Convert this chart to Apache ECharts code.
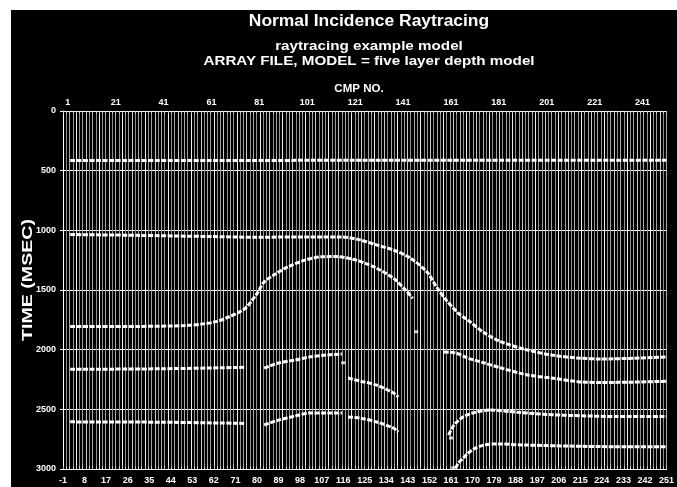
<!DOCTYPE html>
<html><head><meta charset="utf-8">
<script src="https://cdn.jsdelivr.net/npm/echarts@6/dist/echarts.min.js"></script>
<style>
html,body{margin:0;padding:0;background:#fff;width:677px;height:487px;overflow:hidden}
#c{position:absolute;left:11px;top:10px;width:666px;height:477px;background:#000}
</style></head><body><div id="c"></div>
<script>
// Tick labels
const cmpTopTicks = [1,21,41,61,81,101,121,141,161,181,201,221,241];
const cmpBottomTicks = [-1,8,17,26,35,44,53,62,71,80,89,98,107,116,125,134,143,152,161,170,179,188,197,206,215,224,233,242,251];
// Events: [CMP, time ms]
const ev400 = [[2,415],[60,415],[120,413],[180,413],[251,412]];
const ev1000 = [[2,1035],[30,1042],[60,1052],[80,1058],[100,1055],[115,1055],[123,1080],[130,1123],[137,1165],[144,1232],[151,1349],[155,1475],[159,1584],[164,1693],[168,1751],[175,1860],[182,1935],[193,2003],[203,2045],[214,2070],[224,2078],[237,2072],[251,2062]];
const evArc = [[2,1805],[30,1805],[50,1798],[57,1785],[63,1765],[68,1728],[75,1655],[80,1530],[83,1432],[87,1375],[93,1305],[100,1250],[107,1222],[113,1220],[120,1242],[125,1275],[130,1318],[137,1402],[142,1500],[145,1570]];
const ev2160a = [[2,2165],[40,2160],[75,2148]];
const ev2160b = [[83,2154],[89,2112],[96,2087],[102,2061],[109,2045],[115.5,2036]];
const ev2160c = [[118,2238],[123,2263],[130,2297],[137,2363],[139,2397]];
const ev2600a = [[2,2605],[40,2608],[75,2618]];
const ev2600b = [[83,2631],[89,2590],[96,2556],[102,2531],[109,2531],[115.5,2531]];
const ev2600c = [[118,2564],[123,2573],[130,2606],[137,2657],[139,2690]];
const evRight2000 = [[158,2020],[163,2028],[168,2070],[175,2112],[182,2154],[193,2212],[203,2238],[214,2268],[224,2275],[237,2272],[251,2265]];
const evRight2500 = [[160,2715],[162,2640],[163,2615],[166,2564],[170,2531],[177,2506],[189,2525],[203,2545],[217,2555],[230,2560],[251,2560]];
const evRight2800 = [[163,2995],[164,2952],[166,2911],[168,2869],[171,2827],[175,2799],[180,2790],[192,2799],[210,2808],[230,2813],[251,2813]];
const blips = [[146.5,1850],[116,2110],[161,2740],[162,2990]];

const events = [ev400, ev1000, evArc, ev2160a, ev2160b, ev2160c, ev2600a, ev2600b, ev2600c, evRight2000, evRight2500, evRight2800];

const chart = echarts.init(document.getElementById('c'));
const white = '#ffffff';
const narrow = "'Liberation Sans Narrow','Arial Narrow','Liberation Sans',Arial,sans-serif";
const sans = "'Liberation Sans',Arial,Helvetica,sans-serif";

const series = events.map(d => ({
  type: 'line', xAxisIndex: 0, yAxisIndex: 0, data: d,
  showSymbol: false, smooth: 0.3, silent: true, z: 5,
  lineStyle: { color: white, width: 3, type: [5, 1.5] }
}));
series.push({
  type: 'scatter', xAxisIndex: 0, yAxisIndex: 0, data: blips,
  symbol: 'rect', symbolSize: [4, 3], itemStyle: { color: white }, silent: true, z: 5
});

chart.setOption({
  backgroundColor: 'transparent',
  animation: false,
  grid: { left: 52, right: 4, top: 101, bottom: 18, containLabel: false },
  graphic: [
    { type: 'text', x: 358, y: 12, scaleX: 1.09, style: { text: 'Normal Incidence Raytracing', font: 'bold 16px ' + sans, fill: white, align: 'center', verticalAlign: 'middle' } },
    { type: 'text', x: 358, y: 36, scaleX: 1.17, style: { text: 'raytracing example model', font: 'bold 13px ' + sans, fill: white, align: 'center', verticalAlign: 'middle' } },
    { type: 'text', x: 358, y: 51, scaleX: 1.17, style: { text: 'ARRAY FILE, MODEL = five layer depth model', font: 'bold 13px ' + sans, fill: white, align: 'center', verticalAlign: 'middle' } },
    { type: 'text', x: 348, y: 79, scaleX: 1.05, style: { text: 'CMP NO.', font: 'bold 11px ' + sans, fill: white, align: 'center', verticalAlign: 'middle' } },
    { type: 'text', x: 17, y: 270, rotation: Math.PI / 2, scaleX: 1.4, style: { text: 'TIME (MSEC)', font: 'bold 14px ' + sans, fill: white, align: 'center', verticalAlign: 'middle' } }
  ],
  xAxis: [
    { type: 'value', position: 'bottom', min: -1, max: 251,
      axisLine: { show: true, onZero: false, lineStyle: { color: white, width: 1 } },
      axisTick: { show: false },
      splitLine: { show: false },
      axisLabel: { customValues: cmpBottomTicks, color: white, fontSize: 9, fontWeight: 'bold', fontFamily: narrow, margin: 7, showMinLabel: true, showMaxLabel: true } },
    { type: 'value', position: 'top', min: -1, max: 251,
      axisLine: { show: true, onZero: false, lineStyle: { color: white, width: 1 } },
      axisTick: { show: false },
      splitLine: { show: false },
      axisLabel: { customValues: cmpTopTicks, color: white, fontSize: 9, fontWeight: 'bold', fontFamily: narrow, margin: 4 } },
    { type: 'value', position: 'bottom', min: 0, max: 184, interval: 1,
      axisLine: { show: false, onZero: false },
      axisLabel: { show: false },
      axisTick: { show: true, inside: true, length: 3, lineStyle: { color: '#cccccc' } },
      splitLine: { show: true, lineStyle: { color: ['#c8c8c8', '#8c8c8c', '#a8a8a8', '#949494', '#ececec', '#909090', '#a0a0a0'], width: 1 } } },
    { type: 'value', position: 'top', min: 0, max: 184, interval: 1,
      axisLine: { show: false, onZero: false },
      axisLabel: { show: false },
      axisTick: { show: true, inside: true, length: 3, lineStyle: { color: '#cccccc' } },
      splitLine: { show: false } }
  ],
  yAxis: [
    { type: 'value', inverse: true, min: 0, max: 3000, interval: 500,
      axisLine: { show: true, onZero: false, lineStyle: { color: white, width: 1 } },
      axisTick: { show: true, length: 3, lineStyle: { color: white } },
      splitLine: { show: true, z: 3, lineStyle: { color: white, width: 1 } },
      axisLabel: { color: white, fontSize: 9, fontWeight: 'bold', fontFamily: sans, margin: 7, formatter: v => String(v) } }
  ],
  series: series
});
</script></body></html>
